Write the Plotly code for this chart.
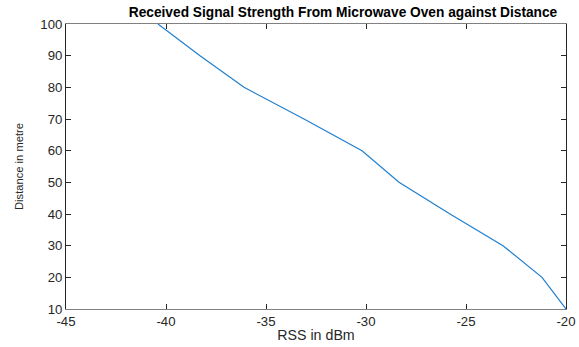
import plotly.graph_objects as go

rss_dbm = [-40.4, -38.3, -36.1, -33.1, -30.2, -28.35, -25.8, -23.15, -21.2, -20.0]
distance_m = [100, 90, 80, 70, 60, 50, 40, 30, 20, 10]
x_ticks = [-45, -40, -35, -30, -25, -20]
y_ticks = [10, 20, 30, 40, 50, 60, 70, 80, 90, 100]

S = 1.016  # compensation for the capture scale

fig = go.Figure()
fig.add_trace(go.Scatter(x=rss_dbm, y=distance_m, mode="lines",
                         line=dict(color="#1f7fcf", width=1.2), showlegend=False))

axis_common = dict(showgrid=False, zeroline=False, showline=True, mirror="ticks",
                   ticks="inside", ticklen=5, tickwidth=1,
                   tickfont=dict(family="Liberation Sans, Arial", size=13 * S, color="#262626"))

W, H = round(579 * S), round(347 * S)
fig.update_layout(
    width=W, height=H,
    margin=dict(l=round(65 * S), r=round(14 * S), t=round(24 * S), b=round(39 * S)),
    paper_bgcolor="white", plot_bgcolor="white",
    title=dict(text="<b>Received Signal Strength From Microwave Oven against Distance</b>",
               x=0.554, xanchor="center", xref="paper",
               y=1 - 12 / 347, yref="container", yanchor="middle",
               font=dict(family="Liberation Sans, Arial", size=13.5 * S, color="black")),
    xaxis=dict(range=[-45, -20], tickvals=x_ticks, ticktext=[str(v) for v in x_ticks],
               linecolor="#808080", tickcolor="#262626",
               title=dict(text="RSS in dBm", standoff=2,
                          font=dict(family="Liberation Sans, Arial", size=14 * S, color="#262626")),
               **axis_common),
    yaxis=dict(range=[10, 100], tickvals=y_ticks, ticktext=[str(v) for v in y_ticks],
               linecolor="#262626", tickcolor="#262626",
               title=dict(text="Distance in metre", standoff=14,
                          font=dict(family="Liberation Sans Narrow, Liberation Sans", size=11 * S, color="#262626")),
               **axis_common),
)

fig.write_html(
    "out.html",
    config={"displayModeBar": False, "staticPlot": True},
    post_script=(
        "document.body.style.margin='0';"
        "document.body.style.overflow='hidden';"
        "document.documentElement.style.overflow='hidden';"
    ),
)
